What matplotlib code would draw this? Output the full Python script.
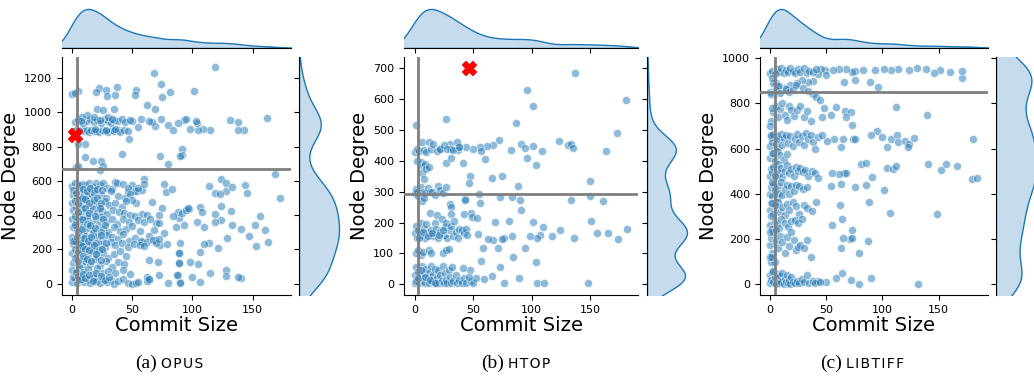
import numpy as np
import matplotlib.pyplot as plt
import seaborn as sns

# (commit size, node degree) pairs
opus_pts = [
    # upper group
    (119, 1262), (68, 1231), (74, 1163), (81, 1117), (75, 1091), (53, 1132), (52, 1103),
    (37, 1148), (101, 1124), (36, 1103), (22, 1144), (20, 1120), (28, 1130), (29, 1095),
    (5, 1122), (0, 1105), (2, 1112), (62, 1041), (69, 1021), (21, 1021), (26, 1012), (35, 1021),
    (162, 967), (131, 953), (138, 944), (143, 899), (138, 895), (115, 899), (109, 905),
    (105, 899), (98, 901), (104, 938), (103, 946), (93, 953), (95, 963), (88, 938), (80, 924),
    (74, 959), (69, 918), (66, 944), (64, 950), (57, 959), (55, 915), (50, 950), (47, 841),
    (84, 899), (91, 788), (91, 750), (90, 744), (73, 744), (80, 697), (41, 759), (24, 713),
    (11, 740), (11, 817), (5, 817), (17, 715), (26, 688), (23, 662), (3, 682), (5, 688),
    (1, 888), (3, 895), (5, 885), (8, 900), (10, 890), (12, 895), (14, 886), (16, 898),
    (18, 890), (20, 893), (22, 885), (25, 899), (27, 890), (30, 887), (33, 896), (35, 889),
    (38, 894), (40, 886), (43, 898), (46, 890), (2, 945), (5, 955), (9, 938), (12, 950),
    (15, 960), (18, 942), (21, 952), (24, 937), (27, 958), (30, 946), (32, 940), (35, 955),
    (38, 948), (41, 960), (44, 942), (48, 952), (12, 985), (18, 975), (30, 975), (8, 970),
    (6, 893), (19, 900), (28, 896), (36, 900), (7, 950), (23, 957), (33, 962),
    # lower group, sparse part
    (169, 638), (173, 497), (144, 575), (145, 526), (124, 608), (128, 585), (128, 542),
    (133, 561), (119, 530), (123, 522), (114, 569), (124, 452), (132, 425), (156, 394),
    (152, 344), (160, 313), (163, 245), (153, 220), (147, 278), (140, 320), (133, 340),
    (124, 371), (119, 357), (119, 405), (129, 268), (121, 210), (114, 235), (110, 233),
    (106, 183), (105, 117), (98, 128), (89, 177), (89, 123), (88, 51), (100, 41), (90, 12),
    (106, 12), (115, 61), (128, 80), (128, 47), (140, 35), (138, 40), (93, 342), (104, 361),
    (110, 332), (97, 433), (106, 448), (108, 419), (89, 384), (88, 420),
    (76, 579), (78, 536), (83, 555), (75, 439), (84, 394), (72, 400), (70, 355), (72, 351),
    (68, 313), (69, 254), (73, 225), (76, 293), (64, 278), (58, 245), (79, 229), (71, 128),
    (64, 138), (64, 21), (62, 16), (72, 50), (80, 2), (87, 50), (90, 2), (89, 122), (89, 177),
    (90, 235), (86, 332), (91, 410), (95, 429), (96, 439), (66, 474), (53, 468), (54, 542),
    (58, 546), (46, 536), (50, 575), (36, 594), (60, 610),
    # lower group, dense part
    (0, 570), (2, 590), (5, 560), (8, 580), (11, 575), (14, 590), (17, 565), (20, 585),
    (23, 575), (26, 590), (29, 560), (33, 555), (37, 590), (42, 580), (46, 560), (52, 540),
    (55, 560), (60, 580),
    (1, 520), (4, 500), (7, 540), (10, 515), (13, 530), (16, 505), (19, 545), (24, 520),
    (28, 500), (32, 540), (38, 510), (44, 500), (48, 525), (50, 490),
    (0, 470), (3, 455), (6, 490), (9, 465), (12, 480), (15, 450), (18, 470), (22, 455),
    (27, 480), (31, 460), (36, 470), (41, 445), (45, 485),
    (1, 430), (4, 410), (7, 440), (10, 420), (13, 400), (17, 435), (21, 415), (25, 425),
    (29, 405), (34, 430), (39, 420), (43, 410), (48, 400), (52, 395), (58, 405), (62, 400),
    (0, 380), (3, 360), (6, 395), (9, 370), (12, 385), (16, 355), (20, 375), (24, 390),
    (28, 360), (33, 380), (37, 350), (42, 375), (47, 360), (55, 370), (60, 360), (65, 380),
    (1, 330), (4, 315), (7, 340), (10, 305), (14, 325), (18, 310), (22, 340), (26, 320),
    (30, 300), (35, 330), (40, 310), (45, 320), (50, 335), (56, 310),
    (0, 275), (2, 260), (5, 290), (8, 255), (11, 280), (14, 265), (17, 295), (21, 270),
    (25, 255), (29, 285), (33, 270), (38, 260), (42, 290), (47, 250), (52, 265), (57, 250),
    (62, 245), (67, 255), (70, 240), (72, 260),
    (1, 230), (3, 245), (6, 210), (9, 235), (12, 220), (16, 240), (19, 205), (23, 230),
    (27, 215), (32, 245), (36, 225), (41, 235), (46, 215), (51, 230), (56, 225), (60, 220),
    (0, 180), (4, 165), (7, 195), (10, 150), (13, 175), (17, 190), (21, 160), (26, 180),
    (30, 150), (35, 175), (40, 190), (45, 160),
    (1, 120), (4, 140), (8, 105), (11, 130), (15, 115), (19, 145), (23, 110), (28, 135),
    (33, 100), (38, 125), (43, 115),
    (0, 80), (3, 60), (6, 95), (9, 70), (13, 85), (17, 55), (21, 90), (25, 65), (30, 75),
    (36, 60), (42, 80), (48, 55),
    (0, 10), (2, 30), (4, 5), (6, 20), (8, 40), (10, 10), (13, 25), (15, 5), (18, 35),
    (20, 15), (23, 5), (26, 30), (29, 10), (32, 20), (35, 0), (38, 15), (42, 30), (46, 5),
    (50, 0), (53, 5), (55, 10), (62, 40), (64, 30),
    (1, 545), (3, 530), (6, 575), (9, 550), (12, 540), (15, 560), (18, 530), (21, 555),
    (25, 545), (2, 480), (5, 470), (8, 500), (11, 495), (14, 470), (18, 490), (21, 500),
    (24, 470), (2, 395), (5, 420), (8, 380), (11, 440), (14, 410), (19, 395), (23, 440),
    (26, 380), (2, 340), (5, 300), (8, 320), (12, 350), (15, 340), (19, 325), (24, 300),
    (27, 345), (1, 250), (4, 270), (7, 235), (10, 265), (13, 250), (16, 275), (20, 240),
    (24, 285), (28, 240), (2, 200), (5, 185), (8, 220), (11, 200), (14, 195), (18, 225),
    (22, 195), (25, 205), (2, 150), (5, 130), (9, 160), (12, 145), (16, 130), (20, 175),
    (24, 140), (1, 40), (3, 70), (5, 45), (7, 25), (9, 55), (11, 35), (14, 50), (17, 15),
    (20, 60), (24, 45), (27, 20), (31, 40),
]
opus_cut = (4, 670)
opus_mark = (2, 870)

htop_pts = [
    (137, 685), (96, 630), (101, 577), (181, 598), (27, 537), (1, 518), (87, 522), (173, 489),
    (123, 465), (131, 452), (134, 454), (135, 443), (109, 433), (164, 431), (91, 456),
    (94, 443), (101, 447), (96, 408), (104, 388), (82, 436), (72, 467), (67, 452), (62, 447),
    (60, 406), (56, 446), (57, 433), (50, 438), (41, 392), (44, 446), (38, 447), (37, 436),
    (30, 454), (31, 438), (22, 438), (27, 393), (31, 409), (47, 350), (46, 327), (66, 345),
    (75, 352), (88, 318), (91, 242), (90, 274), (73, 284), (83, 282), (55, 293), (56, 263),
    (43, 278), (43, 272), (30, 259), (31, 252), (31, 227), (42, 229), (48, 232), (49, 218),
    (53, 216), (150, 336), (134, 272), (150, 285), (161, 271), (151, 204), (165, 167),
    (156, 167), (182, 180), (174, 146), (136, 151), (124, 175), (117, 156), (110, 186),
    (107, 159), (105, 149), (99, 157), (101, 202), (81, 205), (83, 156), (76, 151), (75, 147),
    (69, 202), (67, 145), (63, 146), (54, 164), (58, 116), (71, 116), (57, 75), (84, 87),
    (94, 116), (73, 57), (104, 71), (89, 21), (66, 26), (47, 46), (41, 54), (59, 18),
    (76, 5), (105, 5), (111, 5), (148, 5),
    (0, 430), (2, 440), (4, 432), (6, 460), (8, 435), (10, 430), (12, 462), (14, 440),
    (16, 455), (19, 432), (22, 438), (25, 450), (28, 440), (33, 436), (36, 460), (38, 445),
    (2, 400), (5, 395), (7, 385), (9, 390), (6, 360), (8, 340), (10, 375), (12, 380),
    (0, 295), (1, 310), (2, 300), (3, 285), (5, 315), (7, 300), (9, 295), (11, 312),
    (13, 298), (15, 300), (17, 290), (20, 318), (22, 305), (24, 295), (27, 315), (6, 270),
    (8, 280),
    (0, 165), (1, 190), (2, 150), (3, 175), (5, 200), (6, 160), (8, 180), (9, 150),
    (10, 195), (12, 165), (13, 230), (14, 175), (16, 155), (17, 200), (18, 180), (19, 225),
    (20, 150), (22, 170), (23, 210), (25, 160), (26, 185), (27, 200), (28, 150), (30, 175),
    (31, 190), (33, 155), (34, 205), (35, 170), (37, 150), (38, 180), (40, 175), (42, 165),
    (44, 180), (45, 160), (4, 150), (7, 170), (11, 155), (15, 165), (21, 160), (24, 175),
    (1, 100), (3, 110), (5, 95), (7, 105), (12, 110), (14, 100), (24, 100), (27, 112),
    (29, 115),
    (0, 5), (0, 30), (1, 55), (2, 15), (3, 40), (4, 5), (5, 25), (6, 60), (7, 10), (8, 35),
    (9, 5), (10, 50), (11, 20), (12, 5), (13, 40), (14, 60), (15, 10), (16, 30), (17, 50),
    (18, 5), (19, 20), (20, 45), (21, 5), (22, 30), (23, 10), (24, 60), (25, 5), (26, 35),
    (27, 15), (28, 5), (29, 45), (30, 25), (31, 5), (32, 55), (33, 10), (35, 30), (36, 5),
    (38, 15), (40, 5), (42, 20), (44, 5), (48, 10), (50, 3), (52, 20), (46, 25),
    (1, 10), (3, 20), (5, 45), (9, 25), (13, 15), (17, 5),
]
htop_cut = (3, 293)
htop_mark = (46, 700)

libtiff_pts = [
    (132, 0), (79, 1), (72, 19), (90, 28), (64, 50), (59, 28), (50, 9), (43, 12),
    (71, 201), (73, 204), (79, 139), (65, 204), (63, 158), (87, 191), (73, 238), (55, 260),
    (64, 290), (62, 349), (88, 363), (107, 316), (149, 309), (76, 430), (85, 437),
    (101, 418), (54, 436), (63, 445), (91, 474), (104, 513), (109, 511), (112, 523),
    (81, 533), (85, 538), (66, 493), (68, 493), (61, 486), (55, 493), (141, 533), (152, 504),
    (157, 533), (166, 521), (180, 464), (184, 470), (181, 644), (95, 678), (90, 659),
    (100, 651), (104, 607), (108, 641), (113, 659), (114, 629), (120, 632), (124, 622),
    (128, 647), (123, 607), (112, 784), (140, 750), (74, 640), (76, 644), (65, 644),
    (63, 607), (57, 644), (51, 634), (67, 767), (72, 762), (73, 706), (68, 740), (59, 784),
    (54, 747), (48, 781), (46, 740), (66, 895), (76, 902), (89, 895), (96, 873), (171, 914),
    (171, 944), (160, 937), (151, 947), (146, 935), (139, 954), (131, 957), (124, 947),
    (114, 950), (108, 947), (101, 951), (93, 947), (83, 947), (76, 944), (73, 937),
    (68, 951), (61, 954), (56, 947), (49, 947), (45, 951), (43, 929), (50, 925),
    (38, 898), (34, 895), (28, 902), (24, 891), (18, 880), (13, 866), (8, 876), (5, 891),
    (0, 935), (2, 945), (4, 930), (6, 950), (8, 940), (10, 955), (12, 935), (14, 948),
    (16, 940), (18, 955), (20, 945), (22, 935), (25, 950), (27, 940), (30, 955), (33, 935),
    (35, 945), (38, 940), (41, 950),
    (0, 850), (3, 890), (5, 860), (7, 875), (9, 845), (14, 865), (17, 850), (20, 860),
    (23, 880), (29, 870), (34, 855), (38, 840), (41, 830), (44, 815),
    (1, 720), (3, 760), (5, 790), (7, 740), (9, 775), (11, 800), (13, 750), (15, 725),
    (17, 790), (19, 770), (21, 745), (24, 770), (27, 790), (30, 740), (33, 765), (36, 720),
    (0, 610), (1, 650), (2, 630), (3, 665), (5, 620), (6, 655), (7, 600), (8, 640),
    (10, 665), (11, 615), (12, 645), (14, 660), (16, 625), (18, 655), (20, 610), (22, 640),
    (24, 665), (26, 630), (28, 655), (30, 615), (32, 670), (34, 640), (36, 660), (38, 630),
    (40, 600), (43, 650), (46, 660),
    (0, 560), (2, 580), (4, 545), (6, 590), (9, 570), (12, 550), (15, 575),
    (0, 480), (1, 510), (2, 495), (3, 520), (5, 470), (6, 505), (7, 530), (8, 490),
    (10, 515), (11, 475), (13, 500), (15, 525), (17, 490), (19, 510), (21, 480), (23, 520),
    (25, 500), (27, 515), (29, 495), (31, 505), (34, 480), (37, 500), (40, 490), (43, 470),
    (0, 400), (1, 430), (2, 390), (3, 445), (4, 415), (6, 380), (7, 435), (8, 405),
    (10, 450), (11, 395), (13, 420), (15, 440), (17, 400), (19, 435), (21, 410), (23, 440),
    (26, 435), (29, 420), (33, 430),
    (0, 330), (1, 360), (3, 310), (5, 345), (7, 365), (9, 320), (11, 340), (13, 305),
    (15, 355), (17, 330), (20, 365), (23, 345), (26, 310), (30, 350), (33, 335), (37, 325),
    (41, 365),
    (0, 260), (2, 245), (4, 280), (6, 265), (8, 250), (10, 290), (13, 270), (16, 255),
    (19, 280), (22, 285), (25, 270), (28, 290),
    (0, 175), (1, 205), (2, 140), (3, 230), (5, 190), (7, 160), (9, 215), (11, 185),
    (13, 140), (15, 210), (17, 170), (19, 230), (21, 195), (23, 150), (25, 165), (27, 175),
    (30, 160), (33, 195), (36, 120), (4, 100), (1, 100),
    (0, 5), (0, 40), (1, 20), (2, 55), (3, 10), (4, 30), (5, 0), (6, 45), (7, 15), (8, 5),
    (9, 35), (10, 10), (11, 50), (12, 0), (13, 25), (14, 8), (15, 40), (16, 5), (17, 20),
    (18, 2), (19, 30), (20, 10), (22, 5), (24, 15), (26, 3), (28, 25), (30, 8), (33, 40),
    (35, 5), (38, 12), (40, 3), (44, 8),
    (1, 300), (2, 120), (0, 700), (2, 780), (1, 840), (3, 580), (2, 450), (4, 350),
    (0, 230), (3, 60), (1, 660), (4, 480), (2, 360), (0, 120), (5, 240), (2, 910),
]
libtiff_cut = (4, 850)
libtiff_mark = None

labels = ['(a)', '(b)', '(c)']
names = ['OPUS', 'HTOP', 'LIBTIFF']
y_ticks = [np.arange(0, 1201, 200), np.arange(0, 701, 100), np.arange(0, 1001, 200)]

W, H = 1034, 384
fig = plt.figure(figsize=(W / 100, H / 100), dpi=100)


def box(left, top, width, height):
    # pixel box -> figure fraction
    return [left / W, 1 - (top + height) / H, width / W, height / H]


# pixel layout of each jointplot: main left, main right, right-marginal left
layout = [(62, 291, 299), (404, 638, 647), (760, 988, 996)]
xlims = [(-8.5, 182), (-9.2, 191), (-9, 194)]
ylims = [(-66, 1322), (-35, 737), (-48, 1005)]
y_bw = [1.0, 0.75, 0.85]
caption_x = [157, 504, 842]

data = [(opus_pts, opus_cut, opus_mark),
        (htop_pts, htop_cut, htop_mark),
        (libtiff_pts, libtiff_cut, libtiff_mark)]

blue = '#1f77b4'
for i, (pts, cut, mark) in enumerate(data):
    xs, ys = np.array(pts, dtype=float).T
    L, R, M = layout[i]
    top, bot = 57, 295
    ax = fig.add_axes(box(L, top, R - L, bot - top))
    ax_top = fig.add_axes(box(L, 7, R - L, 41), sharex=ax)
    ax_right = fig.add_axes(box(M, top, 42, bot - top), sharey=ax)

    ax.scatter(xs, ys, s=34, color=blue, alpha=0.5, edgecolor='white', linewidth=0.7)
    ax.axvline(cut[0], color='grey', lw=2, zorder=3)
    ax.axhline(cut[1], color='grey', lw=2, zorder=3)
    if mark is not None:
        ax.scatter([mark[0]], [mark[1]], marker='X', s=100, color='red', zorder=4)

    sns.kdeplot(x=xs, ax=ax_top, fill=True, color=blue, linewidth=1, bw_adjust=0.7)
    sns.kdeplot(y=ys, ax=ax_right, fill=True, color=blue, linewidth=1, bw_adjust=y_bw[i])

    ax.set_xlim(*xlims[i])
    ax.set_ylim(*ylims[i])
    ax.set_xticks([0, 50, 100, 150])
    ax.set_yticks(y_ticks[i])
    ax.tick_params(labelsize=8)
    ax.spines[['top', 'right']].set_visible(False)
    ax.set_xlabel('Commit Size', fontsize=14, labelpad=1)
    ax.set_ylabel('Node Degree', fontsize=14, labelpad=3)

    ax_top.set_ylim(bottom=0)
    ax_top.spines[['top', 'right', 'left']].set_visible(False)
    ax_top.tick_params(labelbottom=False, left=False, labelleft=False)
    ax_top.set_xlabel('')
    ax_top.set_ylabel('')

    ax_right.set_xlim(left=0)
    ax_right.spines[['top', 'right', 'bottom']].set_visible(False)
    ax_right.tick_params(labelleft=False, bottom=False, labelbottom=False)
    ax_right.set_xlabel('')
    ax_right.set_ylabel('')

    cx = caption_x[i]
    fig.text(cx / W, 1 - 363 / H, labels[i], ha='right', va='center',
             fontsize=14, family='Liberation Serif')
    fig.text((cx + 4) / W, 1 - 364 / H, '\u200a'.join(names[i]), ha='left', va='center',
             fontsize=10, family='DejaVu Sans')

fig.savefig('out.png', dpi=100)
